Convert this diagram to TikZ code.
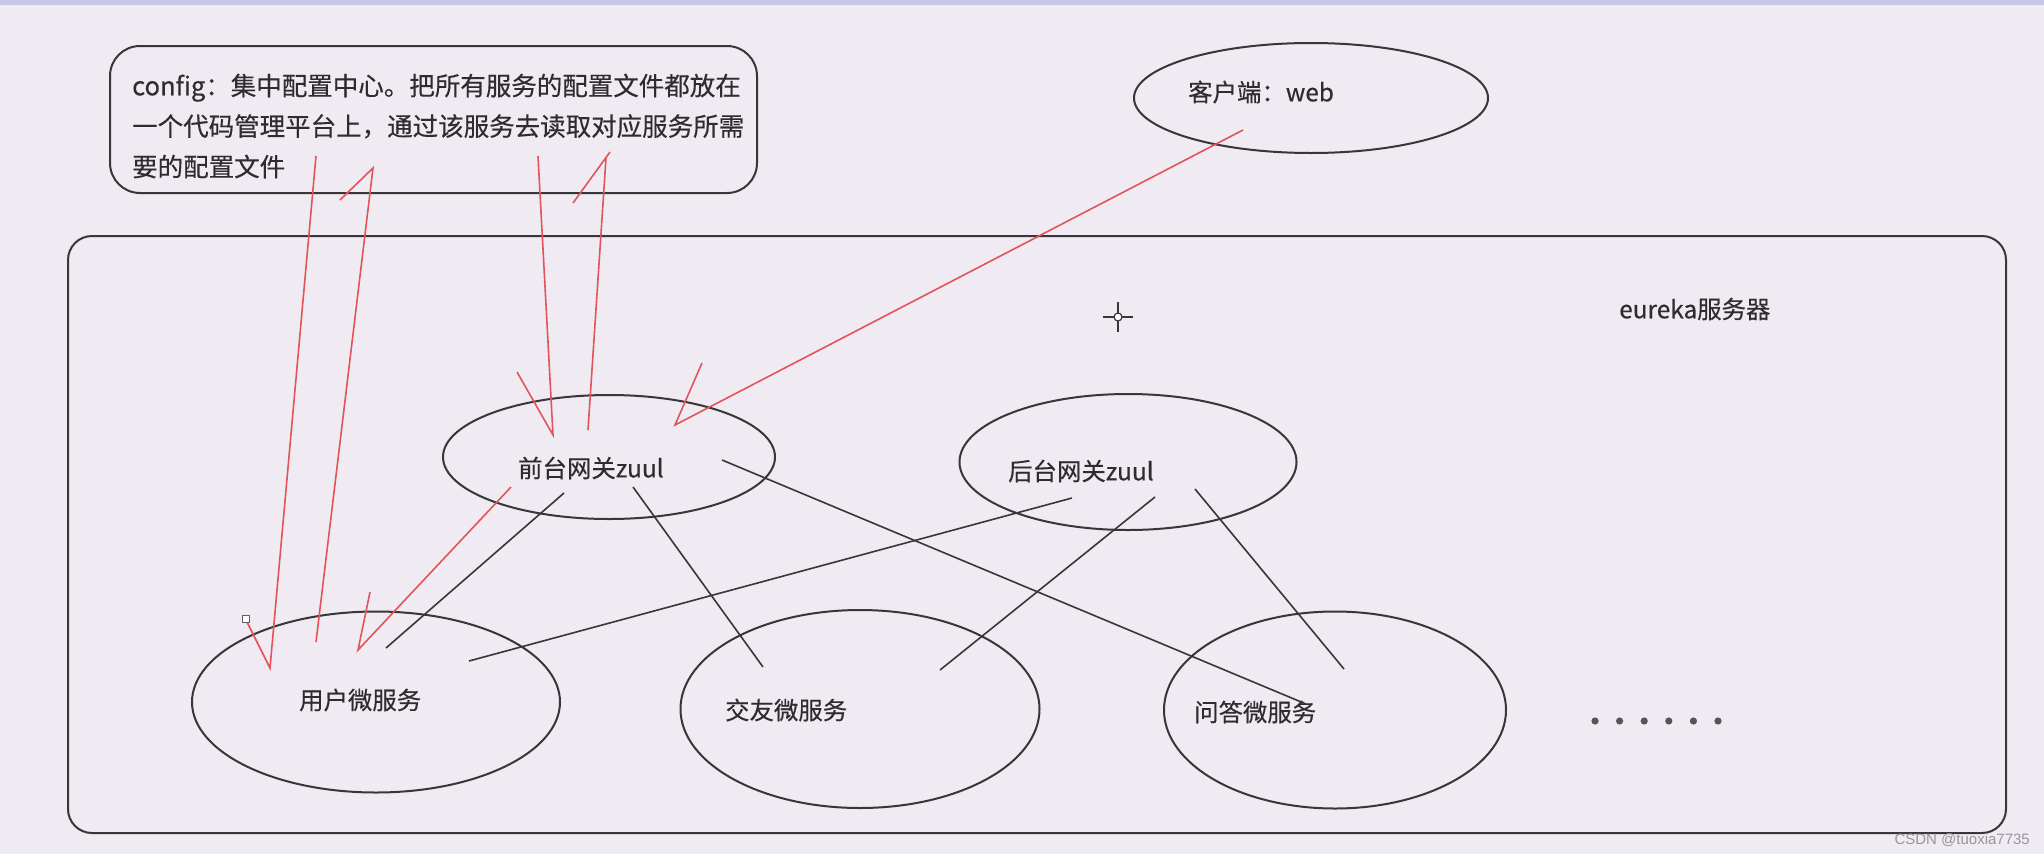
\documentclass[tikz,border=0pt]{standalone}
\usepackage{fontspec}
\setmainfont{Noto Sans CJK SC}[UprightFeatures={FakeBold=0.35}]
\newfontfamily\wmfont{Liberation Sans}
\usetikzlibrary{shapes.geometric,calc}
\definecolor{bgcol}{RGB}{240,234,242}
\definecolor{bandcol}{RGB}{200,198,228}
\definecolor{inkcol}{RGB}{55,55,55}
\definecolor{txtcol}{RGB}{45,45,45}
\definecolor{redcol}{RGB}{226,84,90}
\definecolor{wmcol}{RGB}{150,150,155}
\tikzset{
  frame/.style={draw=inkcol, line width=2pt, rounded corners=#1},
  oval/.style={ellipse, draw=inkcol, line width=2pt, inner sep=0pt},
  lbl/.style={inner sep=0pt, anchor=west, text=txtcol, font=\fontsize{24.4}{29}\selectfont},
  blackline/.style={draw=inkcol, line width=1.6pt},
  redline/.style={draw=redcol, line width=1.6pt},
}
\begin{document}
\begin{tikzpicture}[x=1pt,y=-1pt]
\fill[bgcol] (0,0) rectangle (2044,854);
\useasboundingbox (0,0) rectangle (2044,854);
\fill[bandcol] (0,0) rectangle (2044,5);

% boxes
\draw[frame=30pt] (110,46) rectangle (757,193);
\node[lbl, align=left, font=\fontsize{25.5}{40.5}\selectfont] (cfgtext) at (132,126)
  {config：集中配置中心。把所有服务的配置文件都放在\\一个代码管理平台上，通过该服务去读取对应服务所需\\要的配置文件};
\draw[frame=24pt] (68,236) rectangle (2006,833);
\node[lbl] (eureka) at (1619,309) {eureka服务器};

% ellipses
\node[oval, minimum width=354pt, minimum height=110pt] (client) at (1311,98) {};
\node[lbl] (clienttxt) at (1188,92) {客户端：web};
\node[oval, minimum width=332pt, minimum height=124pt] (front) at (609,457) {};
\node[lbl] (fronttxt) at (518,468) {前台网关zuul};
\node[oval, minimum width=337pt, minimum height=136pt] (back) at (1128,462) {};
\node[lbl] (backtxt) at (1008,471) {后台网关zuul};
\node[oval, minimum width=368pt, minimum height=181pt] (user) at (376,702) {};
\node[lbl] (usertxt) at (299,700) {用户微服务};
\node[oval, minimum width=359pt, minimum height=198pt] (friend) at (860,709) {};
\node[lbl] (friendtxt) at (725,710) {交友微服务};
\node[oval, minimum width=342pt, minimum height=197pt] (qa) at (1335,710) {};
\node[lbl] (qatxt) at (1194,712) {问答微服务};

% dots
\foreach \i in {0,...,5} {
  \fill[inkcol!85] (1595+\i*24.6,721) circle (3.6pt);
}

% crosshair
\coordinate (xh) at (1118,317);
\draw[inkcol, line width=1.2pt] ($(xh)+(-15,0)$) -- ($(xh)+(15,0)$);
\draw[inkcol, line width=1.2pt] ($(xh)+(0,-15)$) -- ($(xh)+(0,15)$);
\filldraw[fill=white, draw=inkcol, line width=1.2pt] (xh) circle (4pt);

% black connectors
\coordinate (b1a) at (564,493); \coordinate (b1b) at (386,648);
\coordinate (b2a) at (633,487); \coordinate (b2b) at (763,667);
\coordinate (b3a) at (722,460); \coordinate (b3b) at (1306,704);
\coordinate (b4a) at (1072,498); \coordinate (b4b) at (469,661);
\coordinate (b5a) at (1155,497); \coordinate (b5b) at (940,670);
\coordinate (b6a) at (1195,489); \coordinate (b6b) at (1344,669);
\draw[blackline] (b1a) -- (b1b);
\draw[blackline] (b2a) -- (b2b);
\draw[blackline] (b3a) -- (b3b);
\draw[blackline] (b4a) -- (b4b);
\draw[blackline] (b5a) -- (b5b);
\draw[blackline] (b6a) -- (b6b);

% red hand-drawn arrows
\coordinate (r1a) at (316,156); \coordinate (r1b) at (270,668); \coordinate (r1h) at (247,622);
\coordinate (r2a) at (316,642); \coordinate (r2b) at (373,168); \coordinate (r2h) at (340,200);
\coordinate (r3a) at (538,156); \coordinate (r3b) at (553,435); \coordinate (r3h) at (517,372);
\coordinate (r4a) at (588,430); \coordinate (r4b) at (606,158); \coordinate (r4h) at (573,203); \coordinate (r4t) at (610,152);
\coordinate (r5a) at (511,487); \coordinate (r5b) at (358,650); \coordinate (r5h) at (370,592);
\coordinate (cwa) at (1243,130); \coordinate (cwb) at (675,425); \coordinate (cwh) at (702,363);
\draw[redline] (r1a) -- (r1b) -- (r1h);
\draw[redline] (r2a) -- (r2b) -- (r2h);
\draw[redline] (r3a) -- (r3b) -- (r3h);
\draw[redline] (r4a) -- (r4b); \draw[redline] (r4h) -- (r4t);
\draw[redline] (r5a) -- (r5b) -- (r5h);
\draw[redline] (cwa) -- (cwb) -- (cwh);
\draw[draw=inkcol!80, fill=white, line width=1pt] (242,615) rectangle (249,622);

% watermark
\node[inner sep=0pt, anchor=east, text=wmcol, font=\wmfont\fontsize{15}{18}\selectfont] (wm) at (2030,840) {CSDN @tuoxia7735};
\end{tikzpicture}
\end{document}
